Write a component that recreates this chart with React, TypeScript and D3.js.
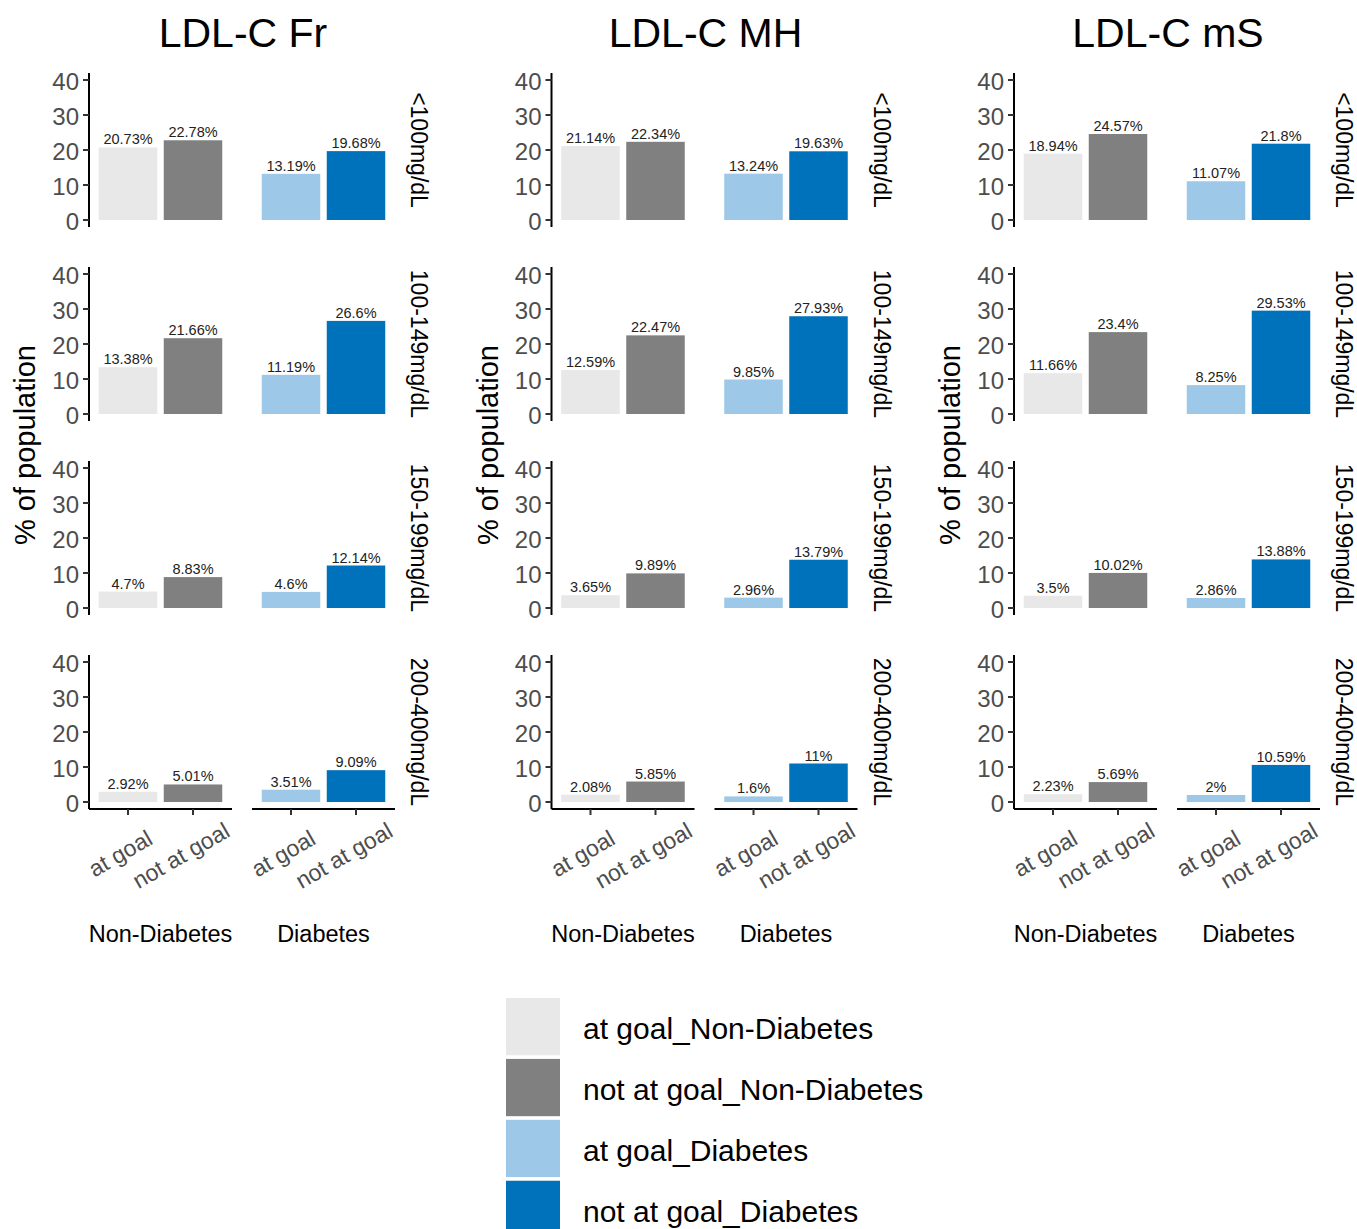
import React from 'react';
import * as d3 from 'd3';

// chart data
const panelTitles = ['LDL-C Fr', 'LDL-C MH', 'LDL-C mS'];
const rowLabels = ['<100mg/dL', '100-149mg/dL', '150-199mg/dL', '200-400mg/dL'];
const groups = ['Non-Diabetes', 'Diabetes'];
const statuses = ['at goal', 'not at goal'];
const yTicks = [0, 10, 20, 30, 40];

// values per row: [at goal ND, not at goal ND, at goal D, not at goal D]
const frValues = [
  [20.73, 22.78, 13.19, 19.68],
  [13.38, 21.66, 11.19, 26.6],
  [4.7, 8.83, 4.6, 12.14],
  [2.92, 5.01, 3.51, 9.09],
];
const mhValues = [
  [21.14, 22.34, 13.24, 19.63],
  [12.59, 22.47, 9.85, 27.93],
  [3.65, 9.89, 2.96, 13.79],
  [2.08, 5.85, 1.6, 11],
];
const msValues = [
  [18.94, 24.57, 11.07, 21.8],
  [11.66, 23.4, 8.25, 29.53],
  [3.5, 10.02, 2.86, 13.88],
  [2.23, 5.69, 2, 10.59],
];
const panelValues = [frValues, mhValues, msValues];

const legendLabels = [
  'at goal_Non-Diabetes',
  'not at goal_Non-Diabetes',
  'at goal_Diabetes',
  'not at goal_Diabetes',
];
const fillColors = ['#E8E8E8', '#808080', '#9DC8E8', '#0071BB'];

const W = 1357;
const H = 1229;
const FONT = 'Arial, "Liberation Sans", sans-serif';

const Panel = ({ p }: { p: number }) => {
  const axisX = 89 + 462.5 * p;
  const subWidth = 143;
  const subOffset = 163;
  const rowTop0 = 73;
  const rowStep = 194;
  const rowHeight = 154;
  const values = panelValues[p];

  const color = d3.scaleOrdinal<string, string>().domain(legendLabels).range(fillColors);

  return (
    <g>
      <text x={axisX + 154} y={47} textAnchor="middle" fontSize={41} fill="#000">
        {panelTitles[p]}
      </text>
      <text
        transform={`translate(${axisX - 64},445) rotate(-90)`}
        textAnchor="middle"
        dominantBaseline="central"
        fontSize={29}
        fill="#000"
      >
        % of population
      </text>
      {rowLabels.map((rl, r) => {
        const top = rowTop0 + r * rowStep;
        const y = d3.scaleLinear().domain([-2, 42]).range([top + rowHeight, top]);
        const isBottom = r === rowLabels.length - 1;
        return (
          <g key={rl}>
            {/* y axis on left subplot */}
            <line x1={axisX} x2={axisX} y1={top} y2={top + rowHeight} stroke="#000" strokeWidth={2} />
            {yTicks.map((t) => (
              <g key={t}>
                <line x1={axisX - 6} x2={axisX} y1={y(t)} y2={y(t)} stroke="#333" strokeWidth={2} />
                <text
                  x={axisX - 10}
                  y={y(t) + 1}
                  textAnchor="end"
                  dominantBaseline="central"
                  fontSize={24}
                  fill="#4D4D4D"
                >
                  {t}
                </text>
              </g>
            ))}
            {groups.map((g, gi) => {
              const left = axisX + gi * subOffset;
              const x = d3
                .scaleBand<string>()
                .domain(statuses)
                .range([left, left + subWidth])
                .paddingInner(0.1)
                .paddingOuter(0.15);
              return (
                <g key={g}>
                  {statuses.map((s, si) => {
                    const v = values[r][gi * 2 + si];
                    const bx = x(s) as number;
                    return (
                      <g key={s}>
                        <rect
                          x={bx}
                          y={y(v)}
                          width={x.bandwidth()}
                          height={y(0) - y(v)}
                          fill={color(`${s}_${g}`)}
                        />
                        <text
                          x={bx + x.bandwidth() / 2}
                          y={y(v) - 3}
                          textAnchor="middle"
                          fontSize={14.5}
                          fill="#222"
                        >
                          {`${v}%`}
                        </text>
                      </g>
                    );
                  })}
                  {isBottom && (
                    <g>
                      <line
                        x1={left}
                        x2={left + subWidth}
                        y1={top + rowHeight}
                        y2={top + rowHeight}
                        stroke="#000"
                        strokeWidth={2}
                      />
                      {statuses.map((s) => {
                        const cx = (x(s) as number) + x.bandwidth() / 2;
                        return (
                          <g key={s}>
                            <line
                              x1={cx}
                              x2={cx}
                              y1={top + rowHeight}
                              y2={top + rowHeight + 6}
                              stroke="#333"
                              strokeWidth={2}
                            />
                            <text
                              transform={`translate(${cx - s.length * 1.1},${top + rowHeight + 41 + s.length * 0.5}) rotate(-30)`}
                              textAnchor="middle"
                              dominantBaseline="central"
                              fontSize={23}
                              fill="#4D4D4D"
                            >
                              {s}
                            </text>
                          </g>
                        );
                      })}
                      <text
                        x={left + subWidth / 2}
                        y={934}
                        textAnchor="middle"
                        dominantBaseline="central"
                        fontSize={23.5}
                        fill="#000"
                      >
                        {g}
                      </text>
                    </g>
                  )}
                </g>
              );
            })}
            <text
              transform={`translate(${axisX + 330},${top + rowHeight / 2}) rotate(90)`}
              textAnchor="middle"
              dominantBaseline="central"
              fontSize={23}
              fill="#000"
            >
              {rl}
            </text>
          </g>
        );
      })}
    </g>
  );
};

const Legend = () => {
  const y = d3.scaleBand<string>().domain(legendLabels).range([998, 1238]).paddingInner(0.06).paddingOuter(0);
  return (
    <g>
      {legendLabels.map((l, i) => (
        <g key={l}>
          <rect x={506} y={y(l)} width={54} height={y.bandwidth()} fill={fillColors[i]} />
          <text
            x={583}
            y={(y(l) as number) + y.bandwidth() / 2 + 2}
            dominantBaseline="central"
            fontSize={30}
            fill="#000"
          >
            {l}
          </text>
        </g>
      ))}
    </g>
  );
};

export default function App() {
  return (
    <svg
      width={W}
      height={H}
      style={{ position: 'absolute', left: 0, top: 0, background: '#fff' }}
      fontFamily={FONT}
    >
      <rect width={W} height={H} fill="#fff" />
      {panelTitles.map((t, p) => (
        <Panel key={t} p={p} />
      ))}
      <Legend />
    </svg>
  );
}
